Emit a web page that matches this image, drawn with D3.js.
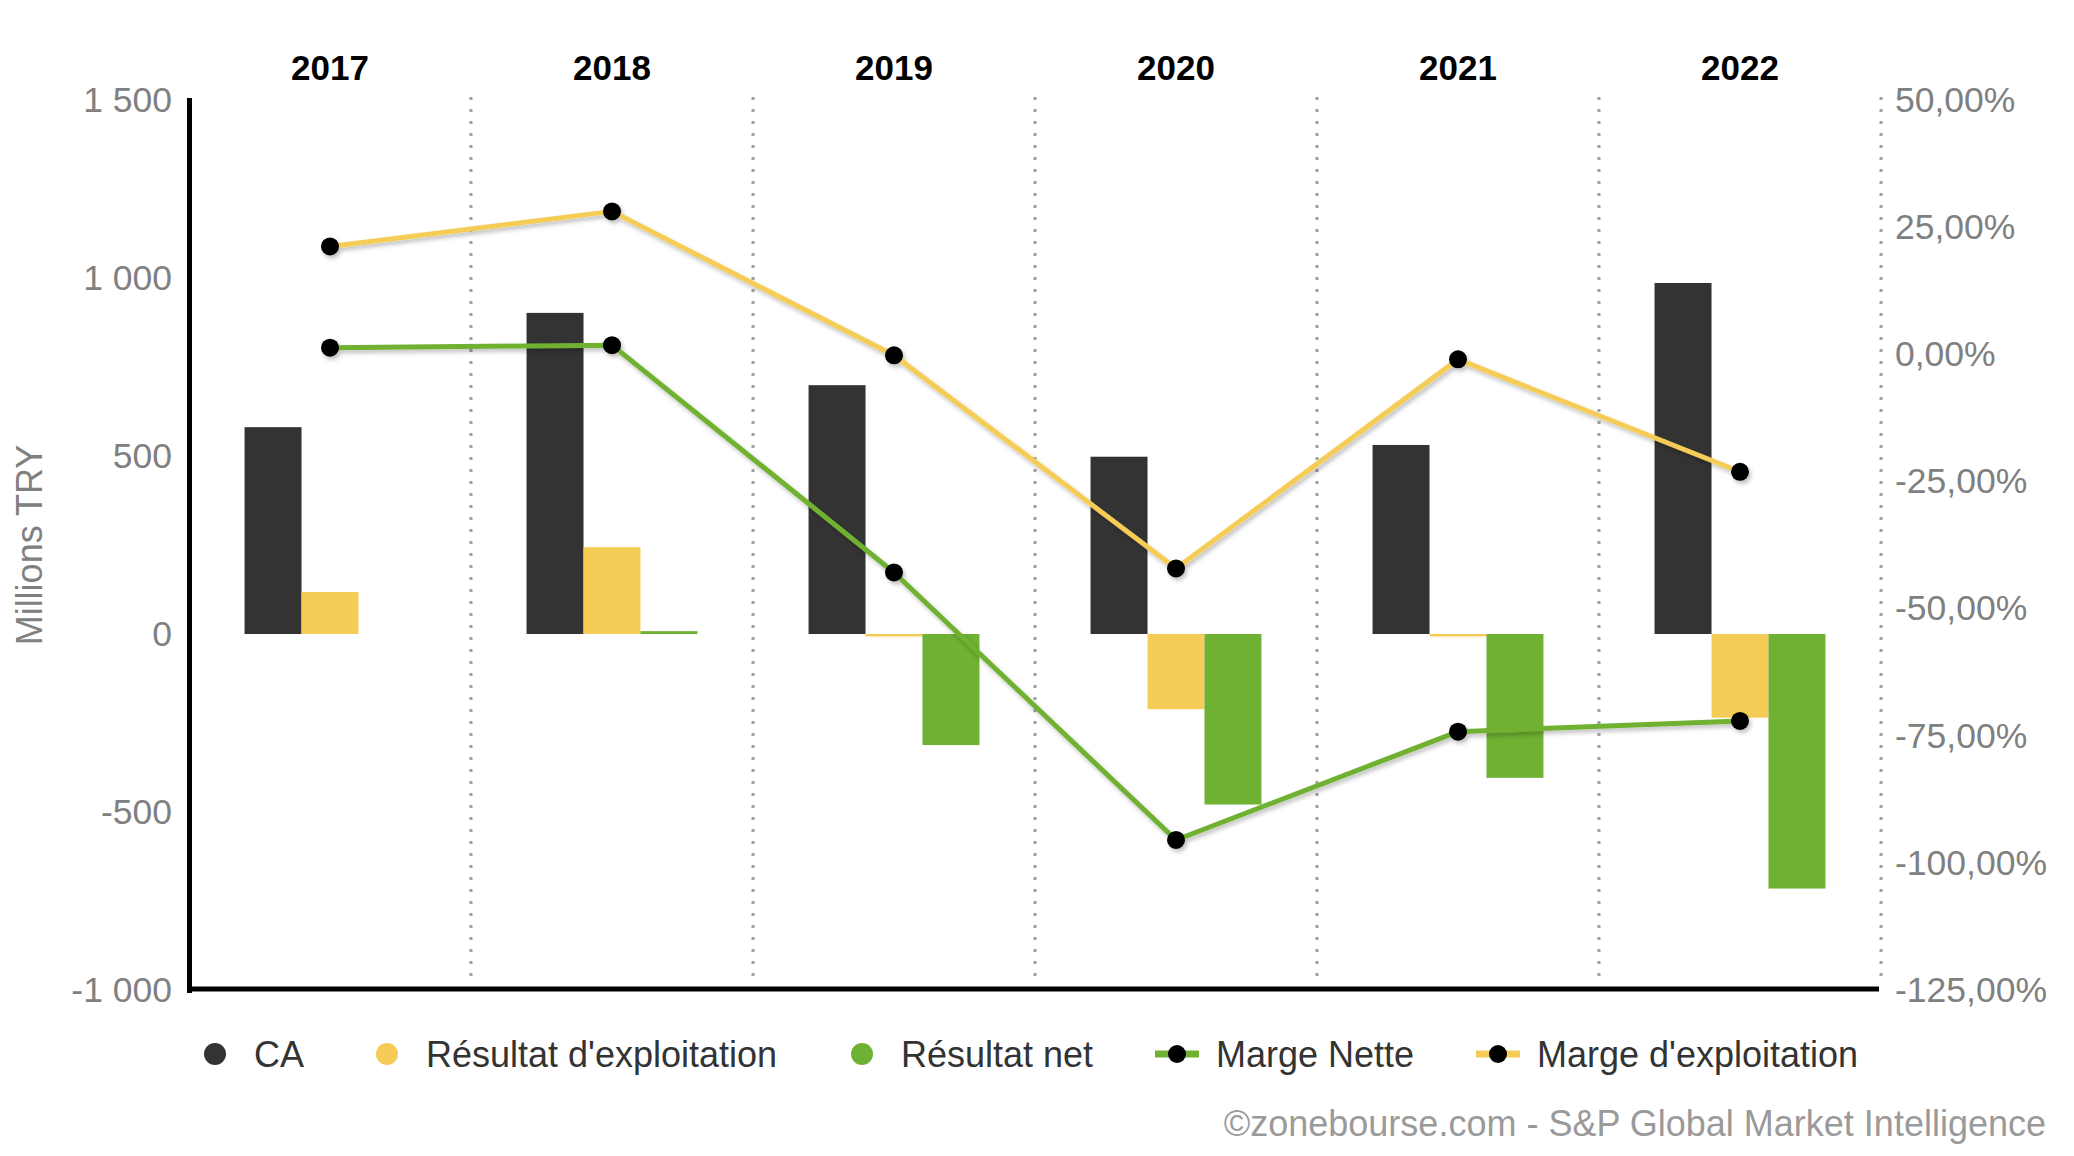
<!DOCTYPE html>
<html>
<head>
<meta charset="utf-8">
<script src="https://cdn.jsdelivr.net/npm/d3@7"></script>
<style>
  body { margin: 0; background: #fff; }
  text { font-family: "Liberation Sans", Arial, sans-serif; }
</style>
</head>
<body>
<div id="container"></div>
<script>
/* DATA */
const years = ["2017", "2018", "2019", "2020", "2021", "2022"];
const ca = [581, 902, 699, 498, 531, 986];
const resExpl = [118, 244, -7, -211, -7, -235];
const resNet = [null, 8, -312, -479, -404, -715];
const margeNette = [1.3, 1.8, -42.9, -95.5, -74.2, -72.1];
const margeExpl = [21.2, 28.1, -0.2, -42.1, -1.0, -23.1];
const leftTicks = [-1000, -500, 0, 500, 1000, 1500];
const rightTicks = [-125, -100, -75, -50, -25, 0, 25, 50];
const barSeries = ["CA", "Résultat d'exploitation", "Résultat net"];
const colors = { ca: "#333333", expl: "#f5cd56", net: "#6fb133" };

/* CONSTANTS */
const width = 2074, height = 1156;
const margin = { top: 100, bottom: 166, left: 189, right: 193 };

const locale = d3.formatLocale({ decimal: ",", thousands: " ", grouping: [3], currency: ["", ""], minus: "-" });

const svg = d3.select("#container")
  .append("svg")
  .attr("width", width)
  .attr("height", height)
  .style("background-color", "#fff");

const defs = svg.append("defs");
defs.append("filter")
  .attr("id", "shadow")
  .attr("x", "-10%").attr("y", "-10%").attr("width", "120%").attr("height", "130%")
  .append("feDropShadow")
  .attr("dx", 2).attr("dy", 3).attr("stdDeviation", 2)
  .attr("flood-color", "#000").attr("flood-opacity", 0.25);

/* SCALES */
const x0 = d3.scaleBand()
  .domain(years)
  .range([margin.left, width - margin.right])
  .paddingInner(0);
const bw = x0.bandwidth();
const groupW = bw * 0.606;
const x1 = d3.scaleBand()
  .domain(barSeries)
  .range([(bw - groupW) / 2, (bw + groupW) / 2]);

const yL = d3.scaleLinear()
  .domain([-1000, 1500])
  .range([height - margin.bottom, margin.top]);
const yR = d3.scaleLinear()
  .domain([-125, 50])
  .range([height - margin.bottom, margin.top]);

/* SEPARATORS */
svg.append("g")
  .selectAll("line")
  .data(years)
  .join("line")
  .attr("x1", d => x0(d) + bw)
  .attr("x2", d => x0(d) + bw)
  .attr("y1", margin.top - 3)
  .attr("y2", height - margin.bottom - 14)
  .attr("stroke", "#a0a0a0")
  .attr("stroke-width", 3)
  .attr("stroke-dasharray", "3,9");

/* BARS */
const rows = years.map((y, i) => ({
  year: y,
  vals: [
    { key: barSeries[0], v: ca[i], c: colors.ca },
    { key: barSeries[1], v: resExpl[i], c: colors.expl },
    { key: barSeries[2], v: resNet[i], c: colors.net }
  ].filter(d => d.v !== null)
}));

svg.append("g")
  .selectAll("g")
  .data(rows)
  .join("g")
  .attr("transform", d => `translate(${x0(d.year)},0)`)
  .selectAll("rect")
  .data(d => d.vals)
  .join("rect")
  .attr("x", d => x1(d.key))
  .attr("width", x1.bandwidth())
  .attr("y", d => Math.min(yL(d.v), yL(0)))
  .attr("height", d => Math.abs(yL(d.v) - yL(0)))
  .attr("fill", d => d.c);

/* AXES */
const leftAxis = svg.append("g")
  .attr("transform", `translate(${margin.left},0)`)
  .call(d3.axisLeft(yL).tickValues(leftTicks).tickSize(0).tickPadding(17)
    .tickFormat(locale.format(",")));
leftAxis.select(".domain")
  .attr("stroke", "#000").attr("stroke-width", 5).attr("stroke-linecap", "square");
leftAxis.selectAll("text")
  .attr("fill", "#808080").style("font-size", "35.5px");

const rightAxis = svg.append("g")
  .attr("transform", `translate(${width - margin.right},0)`)
  .call(d3.axisRight(yR).tickValues(rightTicks).tickSize(0).tickPadding(14)
    .tickFormat(d => locale.format(".2f")(d) + "%"));
rightAxis.select(".domain").remove();
rightAxis.selectAll("text")
  .attr("fill", "#808080").style("font-size", "35.5px");

svg.append("line")
  .attr("x1", x0.range()[0] - 2)
  .attr("x2", x0.range()[1] - 2)
  .attr("y1", yL(-1000) - 1)
  .attr("y2", yL(-1000) - 1)
  .attr("stroke", "#000")
  .attr("stroke-width", 5);

svg.append("text")
  .attr("transform", `translate(${29},${yL(250)}) rotate(-90)`)
  .attr("text-anchor", "middle")
  .attr("dominant-baseline", "central")
  .attr("fill", "#808080")
  .style("font-size", "36px")
  .text("Millions TRY");

/* YEAR LABELS */
svg.append("g")
  .selectAll("text")
  .data(years)
  .join("text")
  .attr("x", d => x0(d) + bw / 2)
  .attr("y", 80)
  .attr("text-anchor", "middle")
  .style("font-size", "35px")
  .style("font-weight", "bold")
  .attr("fill", "#000")
  .text(d => d);

/* LINES */
const lineSeries = [
  { name: "Marge Nette", vals: margeNette, c: colors.net },
  { name: "Marge d'exploitation", vals: margeExpl, c: colors.expl }
];
const line = d3.line()
  .x((d, i) => x0(years[i]) + bw / 2)
  .y(d => yR(d));

const lg = svg.append("g").attr("filter", "url(#shadow)");
lg.selectAll("path")
  .data(lineSeries)
  .join("path")
  .attr("d", d => line(d.vals))
  .attr("fill", "none")
  .attr("stroke", d => d.c)
  .attr("stroke-width", 5)
  .attr("stroke-linejoin", "round");

lg.selectAll("g.pts")
  .data(lineSeries)
  .join("g")
  .attr("class", "pts")
  .selectAll("circle")
  .data(d => d.vals)
  .join("circle")
  .attr("cx", (d, i) => x0(years[i]) + bw / 2)
  .attr("cy", d => yR(d))
  .attr("r", 9)
  .attr("fill", "#000");

/* LEGEND */
const legendY = 1054;
const legendItems = [
  { name: "CA", type: "dot", c: colors.ca, x: 215 },
  { name: "Résultat d'exploitation", type: "dot", c: colors.expl, x: 387 },
  { name: "Résultat net", type: "dot", c: colors.net, x: 862 },
  { name: "Marge Nette", type: "line", c: colors.net, x: 1177 },
  { name: "Marge d'exploitation", type: "line", c: colors.expl, x: 1498 }
];
const leg = svg.append("g")
  .selectAll("g")
  .data(legendItems)
  .join("g")
  .attr("transform", d => `translate(${d.x},${legendY})`);

leg.filter(d => d.type === "line")
  .append("rect")
  .attr("x", -22).attr("y", -3.5)
  .attr("width", 44).attr("height", 7)
  .attr("fill", d => d.c);
leg.append("circle")
  .attr("r", d => d.type === "dot" ? 11 : 9)
  .attr("fill", d => d.type === "dot" ? d.c : "#000");
leg.append("text")
  .attr("x", 39)
  .attr("dy", "0.35em")
  .attr("fill", "#333")
  .style("font-size", "36px")
  .text(d => d.name);

/* SOURCE */
svg.append("text")
  .attr("x", 2046)
  .attr("y", 1123)
  .attr("dy", "0.35em")
  .attr("text-anchor", "end")
  .attr("fill", "#9a9a9a")
  .style("font-size", "36px")
  .text("©zonebourse.com - S&P Global Market Intelligence");
</script>
</body>
</html>
